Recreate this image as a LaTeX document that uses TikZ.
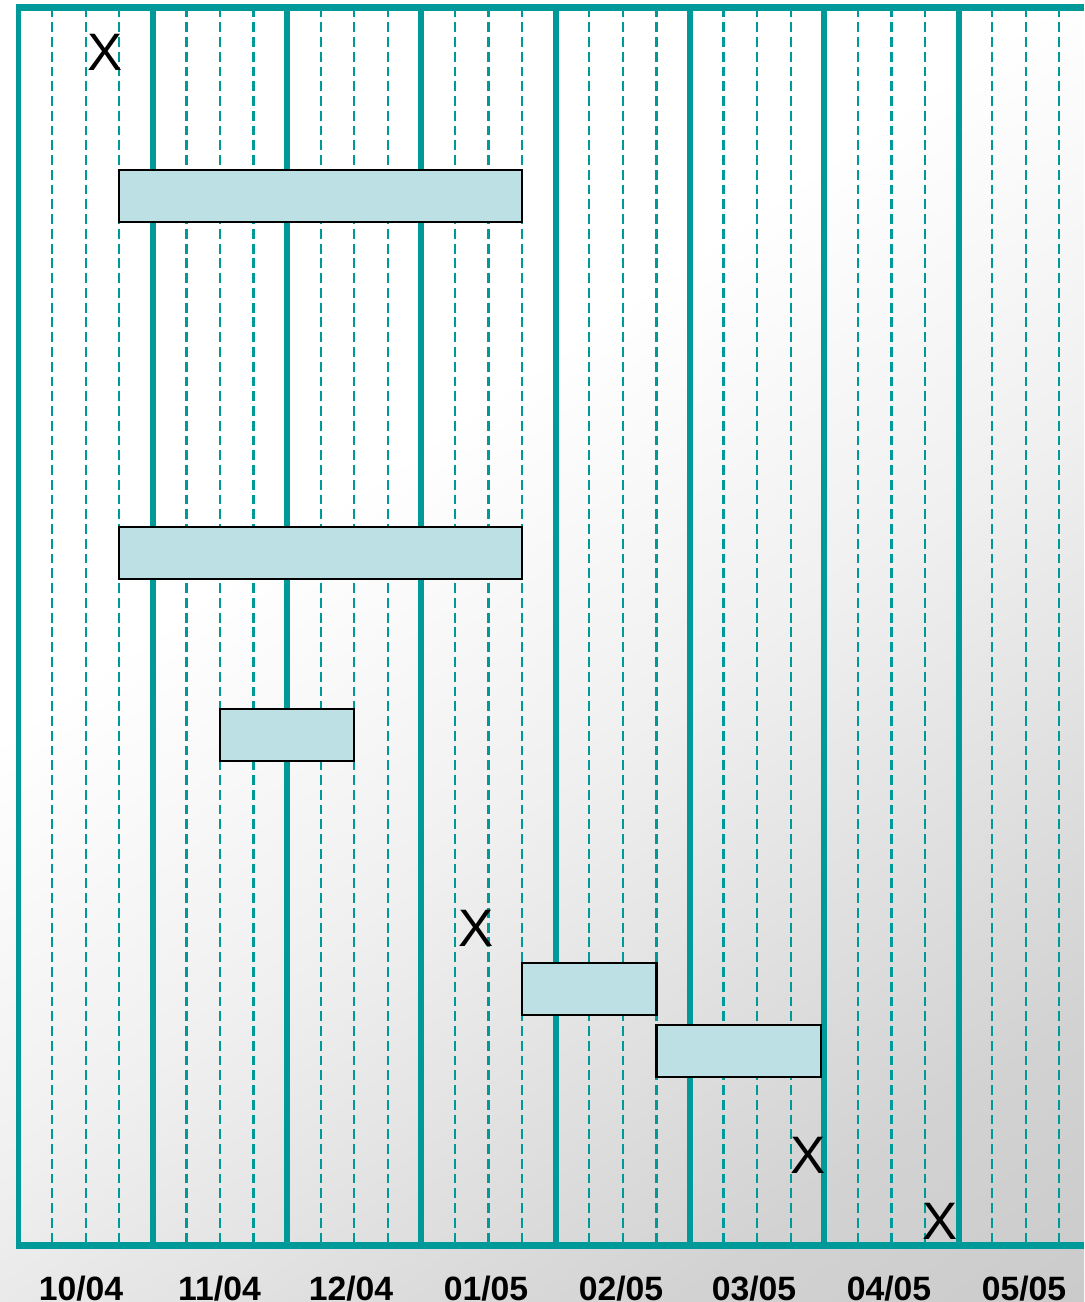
\documentclass[tikz,border=0pt]{standalone}
\usepackage{fontspec}
\setmainfont{Liberation Sans}
\definecolor{gridteal}{RGB}{0,153,153}
\definecolor{barfill}{RGB}{188,224,227}
\pgfdeclareverticalshading{backdrop}{100bp}{color(0bp)=(gray!50); color(25bp)=(gray!35);
  color(45bp)=(gray!12); color(60bp)=(white); color(100bp)=(white)}
\tikzset{
  major/.style={draw=gridteal, line width=1.7pt},
  minor/.style={draw=gridteal, line width=0.65pt, dash pattern=on 2.8pt off 1.4pt},
  task/.style={draw=black, fill=barfill, line width=0.65pt},
  xmark/.style={font=\fontsize{15}{18}\selectfont, inner sep=0pt},
  month/.style={font=\bfseries\fontsize{9.6}{11}\selectfont, anchor=base, inner sep=0pt}
}
\begin{document}
\begin{tikzpicture}[x=0.1mm,y=-0.1mm]
\useasboundingbox (0,0) rectangle (1084,1302);
\shade[shading=backdrop, shading angle=35] (0,0) rectangle (1084,1302);

% weeks
\foreach \m in {0,...,7}
  \foreach \q in {1,2,3}
    \draw[minor] ({18.5+134.3*\m+33.575*\q},7.5) -- ({18.5+134.3*\m+33.575*\q},1245.5);

% months
\foreach \m in {0,...,7}
  \draw[major] ({18.5+134.3*\m},7.5) -- ({18.5+134.3*\m},1245.5);
\draw[major, line width=1.9pt] (15.5,7.5) -- (1084,7.5);
\draw[major, line width=1.9pt] (15.5,1245.5) -- (1084,1245.5);

% tasks
\draw[task] (119.3,170) rectangle (522.1,222);
\draw[task] (119.3,527) rectangle (522.1,579);
\draw[task] (219.8,709) rectangle (354.1,761);
\draw[task] (522.1,963) rectangle (656.4,1015);
\draw[task] (656.4,1025) rectangle (820.7,1077);

\node[xmark] (x1) at (105,52) {X};
\node[xmark] (x2) at (476,928) {X};
\node[xmark] (x3) at (808,1155) {X};
\node[xmark] (x4) at (940,1221) {X};

\node[month] (m1) at (81,1300) {10/04};
\node[month] (m2) at (219.5,1300) {11/04};
\node[month] (m3) at (351,1300) {12/04};
\node[month] (m4) at (486,1300) {01/05};
\node[month] (m5) at (621,1300) {02/05};
\node[month] (m6) at (754,1300) {03/05};
\node[month] (m7) at (889,1300) {04/05};
\node[month] (m8) at (1024,1300) {05/05};
\end{tikzpicture}
\end{document}
